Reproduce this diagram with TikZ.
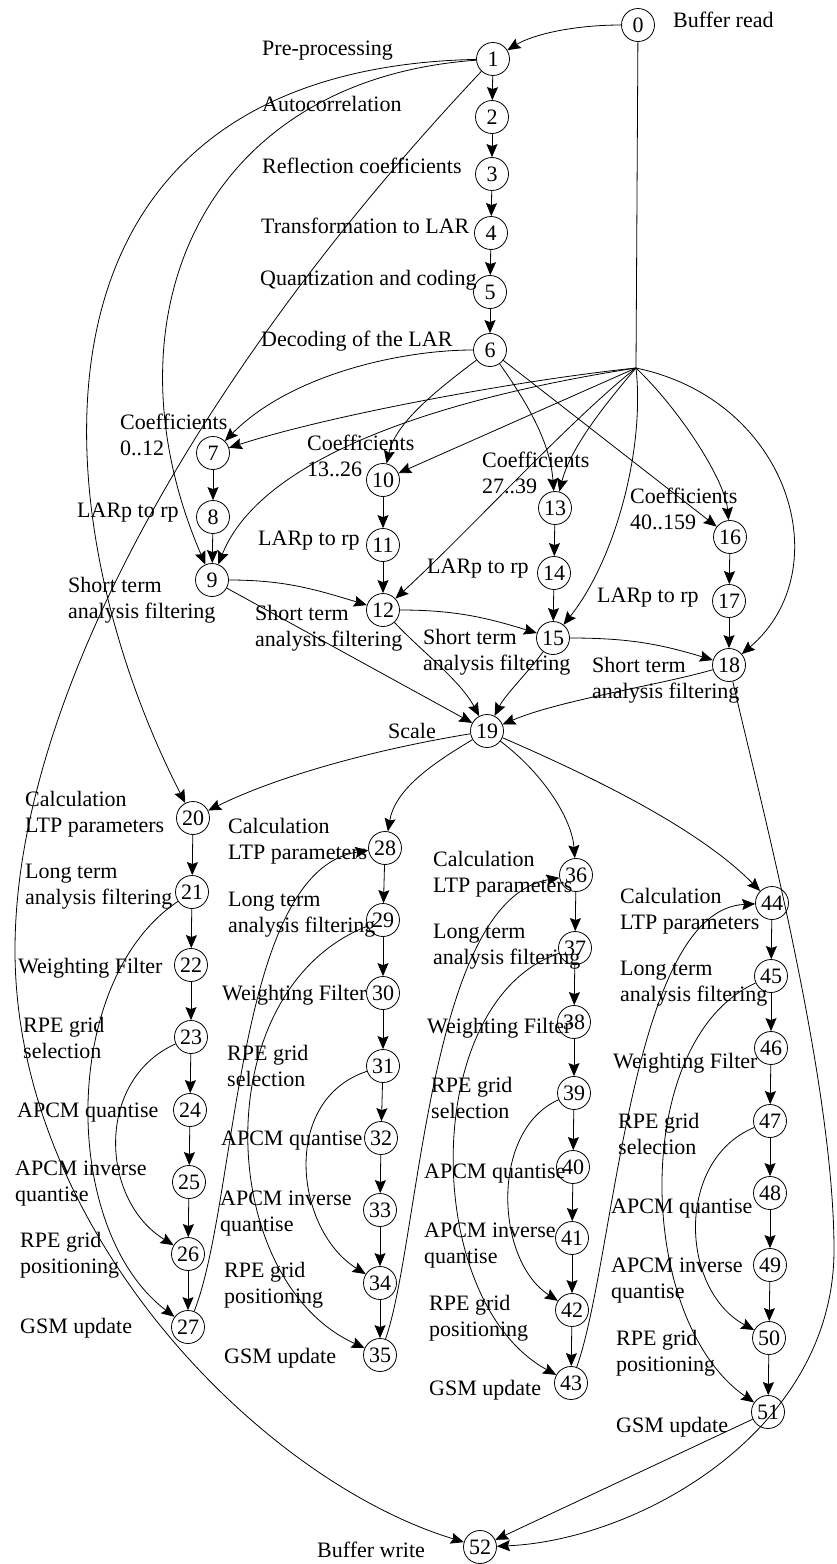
\documentclass[tikz,border=0pt]{standalone}
\usepackage{fontspec}
\setmainfont{Liberation Serif}
\usetikzlibrary{arrows.meta}
\newcommand{\duo}[2]{\begin{tabular}[t]{@{}l@{}}#1\\#2\end{tabular}}
\begin{document}
\begin{tikzpicture}[x=1pt,y=-1pt,
  font=\fontsize{22}{26.5}\selectfont,
  st/.style={circle,draw,line width=0.8pt,minimum size=33pt,inner sep=0pt},
  lab/.style={anchor=base west,inner sep=0pt},
  ln/.style={line width=0.8pt},
  arr/.style={line width=0.8pt,-{Stealth[length=13pt,width=11pt,inset=2pt]}}]
\useasboundingbox (0,0) rectangle (836,1564);

% ---- LPC analysis chain
\node[st] (n0) at (638,25) {0};
\node[st] (n1) at (493,59) {1};
\node[st] (n2) at (492,117) {2};
\node[st] (n3) at (492,174) {3};
\node[st] (n4) at (491,233) {4};
\node[st] (n5) at (490,292) {5};
\node[st] (n6) at (490,350) {6};
\coordinate (J) at (636,368);

% ---- short term analysis, four coefficient sets
\node[st] (n7) at (213,453) {7};
\node[st] (n8) at (213,517) {8};
\node[st] (n9) at (212,580) {9};
\node[st] (n10) at (383,480) {10};
\node[st] (n11) at (383,545) {11};
\node[st] (n12) at (383,610) {12};
\node[st] (n13) at (555,508) {13};
\node[st] (n14) at (554,573) {14};
\node[st] (n15) at (553,638) {15};
\node[st] (n16) at (730,537) {16};
\node[st] (n17) at (729,601) {17};
\node[st] (n18) at (729,665) {18};
\node[st] (n19) at (487,731) {19};

% ---- four sub-frames
\node[st] (n20) at (193,818) {20};
\node[st] (n21) at (192,892) {21};
\node[st] (n22) at (191,965) {22};
\node[st] (n23) at (191,1037) {23};
\node[st] (n24) at (190,1110) {24};
\node[st] (n25) at (189,1182) {25};
\node[st] (n26) at (188,1254) {26};
\node[st] (n27) at (188,1327) {27};
\node[st] (n28) at (385,848) {28};
\node[st] (n29) at (383,920) {29};
\node[st] (n30) at (383,993) {30};
\node[st] (n31) at (383,1066) {31};
\node[st] (n32) at (381,1138) {32};
\node[st] (n33) at (380,1210) {33};
\node[st] (n34) at (380,1283) {34};
\node[st] (n35) at (380,1355) {35};
\node[st] (n36) at (576,875) {36};
\node[st] (n37) at (575,948) {37};
\node[st] (n38) at (574,1022) {38};
\node[st] (n39) at (574,1093) {39};
\node[st] (n40) at (573,1167) {40};
\node[st] (n41) at (572,1238) {41};
\node[st] (n42) at (572,1310) {42};
\node[st] (n43) at (571,1383) {43};
\node[st] (n44) at (772,903) {44};
\node[st] (n45) at (771,976) {45};
\node[st] (n46) at (771,1048) {46};
\node[st] (n47) at (770,1121) {47};
\node[st] (n48) at (770,1193) {48};
\node[st] (n49) at (770,1265) {49};
\node[st] (n50) at (769,1338) {50};
\node[st] (n51) at (768,1412) {51};
\node[st] (n52) at (480,1547) {52};
\coordinate (w) at (15,950);
\coordinate (e) at (834,1250);

% ---- labels
\node[lab] (t0) at (673,27) {Buffer read};
\node[lab] (t1) at (262,55) {Pre-processing};
\node[lab] (t2) at (262,111) {Autocorrelation};
\node[lab] (t3) at (262,173) {Reflection coefficients};
\node[lab] (t4) at (261,233) {Transformation to LAR};
\node[lab] (t5) at (260,285) {Quantization and coding};
\node[lab] (t6) at (261,346) {Decoding of the LAR};
\node[lab] (t7) at (120,429) {\duo{Coefficients}{0..12}};
\node[lab] (t8) at (77,517) {LARp to rp};
\node[lab] (t9) at (68,592) {\duo{Short term}{analysis filtering}};
\node[lab] (t10) at (307,450) {\duo{Coefficients}{13..26}};
\node[lab] (t11) at (258,545) {LARp to rp};
\node[lab] (t12) at (255,620) {\duo{Short term}{analysis filtering}};
\node[lab] (t13) at (482,467) {\duo{Coefficients}{27..39}};
\node[lab] (t14) at (427,573) {LARp to rp};
\node[lab] (t15) at (423,644) {\duo{Short term}{analysis filtering}};
\node[lab] (t16) at (630,503) {\duo{Coefficients}{40..159}};
\node[lab] (t17) at (597,602) {LARp to rp};
\node[lab] (t18) at (592,672) {\duo{Short term}{analysis filtering}};
\node[lab] (t19) at (388,738) {Scale};

\node[lab] (t20) at (25,806) {\duo{Calculation}{LTP parameters}};
\node[lab] (t21) at (25,878) {\duo{Long term}{analysis filtering}};
\node[lab] (t22) at (18,973) {Weighting Filter};
\node[lab] (t23) at (23,1032) {\duo{RPE grid}{selection}};
\node[lab] (t24) at (17,1117) {APCM quantise};
\node[lab] (t25) at (15,1175) {\duo{APCM inverse}{quantise}};
\node[lab] (t26) at (20,1247) {\duo{RPE grid}{positioning}};
\node[lab] (t27) at (20,1333) {GSM update};

\node[lab] (t28) at (228,833) {\duo{Calculation}{LTP parameters}};
\node[lab] (t29) at (228,906) {\duo{Long term}{analysis filtering}};
\node[lab] (t30) at (222,1000) {Weighting Filter};
\node[lab] (t31) at (227,1060) {\duo{RPE grid}{selection}};
\node[lab] (t32) at (221,1145) {APCM quantise};
\node[lab] (t33) at (220,1205) {\duo{APCM inverse}{quantise}};
\node[lab] (t34) at (224,1277) {\duo{RPE grid}{positioning}};
\node[lab] (t35) at (224,1363) {GSM update};

\node[lab] (t36) at (433,866) {\duo{Calculation}{LTP parameters}};
\node[lab] (t37) at (433,938) {\duo{Long term}{analysis filtering}};
\node[lab] (t38) at (427,1033) {Weighting Filter};
\node[lab] (t39) at (431,1092) {\duo{RPE grid}{selection}};
\node[lab] (t40) at (424,1178) {APCM quantise};
\node[lab] (t41) at (424,1237) {\duo{APCM inverse}{quantise}};
\node[lab] (t42) at (429,1310) {\duo{RPE grid}{positioning}};
\node[lab] (t43) at (429,1395) {GSM update};

\node[lab] (t44) at (620,903) {\duo{Calculation}{LTP parameters}};
\node[lab] (t45) at (620,975) {\duo{Long term}{analysis filtering}};
\node[lab] (t46) at (613,1068) {Weighting Filter};
\node[lab] (t47) at (618,1128) {\duo{RPE grid}{selection}};
\node[lab] (t48) at (611,1213) {APCM quantise};
\node[lab] (t49) at (611,1272) {\duo{APCM inverse}{quantise}};
\node[lab] (t50) at (616,1345) {\duo{RPE grid}{positioning}};
\node[lab] (t51) at (616,1432) {GSM update};
\node[lab] (t52) at (317,1557) {Buffer write};

% ---- straight chains
\foreach \a/\b in {1/2,2/3,3/4,4/5,5/6,7/8,8/9,10/11,11/12,13/14,14/15,16/17,17/18}
  \draw[arr] (n\a) -- (n\b);
\foreach \s in {20,28,36,44}{
  \foreach \k in {0,...,6}{
    \pgfmathtruncatemacro\a{\s+\k}
    \pgfmathtruncatemacro\b{\s+\k+1}
    \draw[arr] (n\a) -- (n\b);
  }
}

% ---- input distribution
\draw[arr] (n0) .. controls (572,25) and (532,35) .. (n1);
\draw[ln] (n0) -- (J);
\draw[arr] (J) .. controls (520,380) and (330,415) .. (n7);
\draw[arr] (J) .. controls (430,400) and (260,460) .. (n9);
\draw[arr] (J) -- (n10);
\draw[arr] (J) .. controls (570,420) and (470,530) .. (n12);
\draw[arr] (J) .. controls (600,410) and (570,450) .. (n13);
\draw[arr] (J) .. controls (645,450) and (615,560) .. (n15);
\draw[arr] (J) .. controls (680,410) and (725,480) .. (n16);
\draw[arr] (J) .. controls (790,400) and (840,570) .. (n18);

% ---- decoded LAR to coefficient sets
\draw[arr] (n6) .. controls (400,350) and (290,375) .. (n7);
\draw[arr] (n6) .. controls (430,395) and (395,425) .. (n10);
\draw[arr] (n6) .. controls (525,400) and (550,440) .. (n13);
\draw[arr] (n6) -- (n16);

% ---- pre-processed signal
\draw[arr] (n1) .. controls (200,80) and (100,320) .. (n9);
\draw[arr] (n1) .. controls (0,70) and (40,520) .. (n20);
\draw[arr] (n1) .. controls (200,370) and (15,700) .. (w)
  .. controls (15,1230) and (260,1480) .. (n52);

% ---- short term filtering
\draw[arr] (n9) to[out=0,in=163] (n12);
\draw[arr] (n12) to[out=0,in=163] (n15);
\draw[arr] (n15) to[out=0,in=163] (n18);
\draw[arr] (n9) -- (n19);
\draw[arr] (n12) .. controls (420,650) and (460,680) .. (n19);
\draw[arr] (n15) .. controls (530,670) and (505,695) .. (n19);
\draw[arr] (n18) .. controls (660,685) and (560,700) .. (n19);
\draw[arr] (n18) .. controls (760,800) and (834,1080) .. (e)
  .. controls (834,1430) and (640,1540) .. (n52);

% ---- scaled signal to sub-frames
\draw[arr] (n19) .. controls (360,752) and (270,780) .. (n20);
\draw[arr] (n19) .. controls (430,765) and (395,790) .. (n28);
\draw[arr] (n19) .. controls (545,775) and (572,820) .. (n36);
\draw[arr] (n19) .. controls (600,780) and (700,830) .. (n44);

% ---- within and between sub-frames
\draw[arr] (n21) .. controls (60,980) and (60,1230) .. (n27);
\draw[arr] (n23) .. controls (95,1080) and (100,1200) .. (n26);
\draw[arr] (n27) .. controls (238,1200) and (235,870) .. (n28);
\draw[arr] (n29) .. controls (205,990) and (215,1280) .. (n35);
\draw[arr] (n31) .. controls (280,1100) and (295,1230) .. (n34);
\draw[arr] (n35) .. controls (420,1240) and (428,900) .. (n36);
\draw[arr] (n37) .. controls (420,1000) and (420,1300) .. (n43);
\draw[arr] (n39) .. controls (490,1130) and (495,1260) .. (n42);
\draw[arr] (n43) .. controls (615,1260) and (630,910) .. (n44);
\draw[arr] (n45) .. controls (630,1040) and (635,1320) .. (n51);
\draw[arr] (n47) .. controls (675,1160) and (680,1290) .. (n50);
\draw[arr] (n51) -- (n52);
\end{tikzpicture}
\end{document}
